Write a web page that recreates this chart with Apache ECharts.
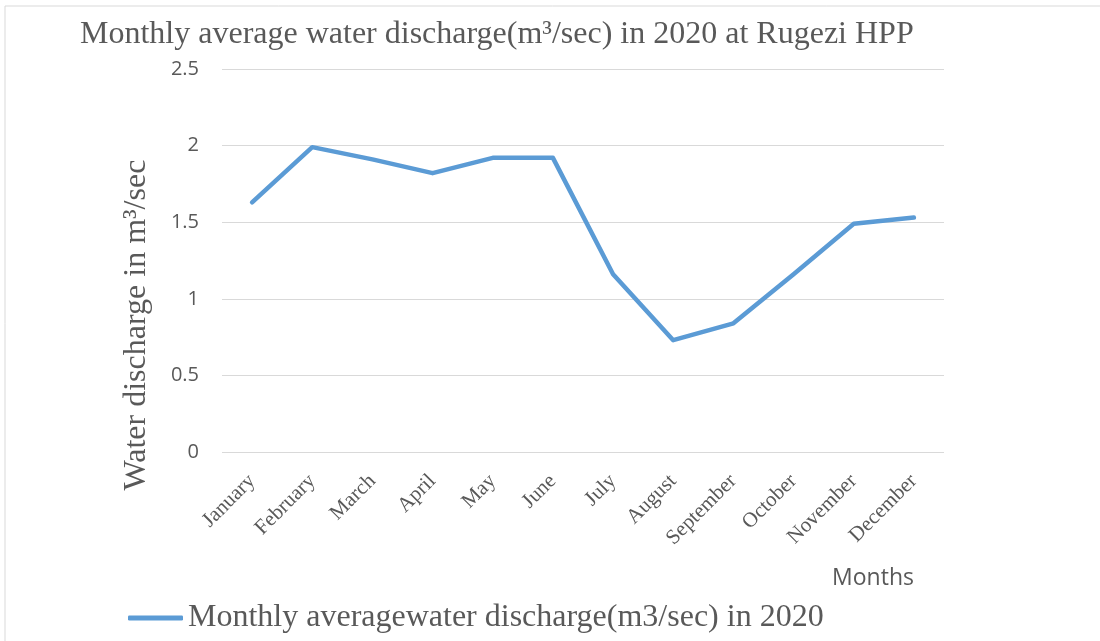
<!DOCTYPE html>
<html>
<head>
<meta charset="utf-8">
<script src="https://cdn.jsdelivr.net/npm/echarts@6/dist/echarts.min.js"></script>
<style>
html, body { margin: 0; padding: 0; background: #fff; }
#main { width: 1100px; height: 641px; }
</style>
</head>
<body>
<div id="main"></div>
<script>
// months on the x axis
var months = ['January', 'February', 'March', 'April', 'May', 'June',
	'July', 'August', 'September', 'October', 'November', 'December'];
// monthly average discharge, m3/sec
var discharge = [1.63, 1.99, 1.91, 1.82, 1.92, 1.92, 1.16, 0.73, 0.84, 1.16, 1.49, 1.53];
var yTicks = [0, 0.5, 1, 1.5, 2, 2.5];

var serif = '"Liberation Serif", "DejaVu Serif", serif';
var sans = '"Open Sans", "Noto Sans", sans-serif';
var textColor = '#595959';

var myChart = echarts.init(document.getElementById('main'));
var option = {
	animation: false,
	title: {
		text: 'Monthly average water discharge(m\u00b3/sec) in 2020 at Rugezi HPP',
		left: 75,
		top: 14,
		textStyle: { fontFamily: serif, fontSize: 32, fontWeight: 'normal', color: textColor }
	},
	legend: {
		left: 123,
		top: 597,
		icon: 'roundRect',
		itemWidth: 55,
		itemHeight: 5,
		textStyle: { fontFamily: serif, fontSize: 32, color: textColor },
		data: ['Monthly averagewater discharge(m3/sec) in 2020']
	},
	grid: { left: 222, right: 156, top: 69, bottom: 189, containLabel: false },
	xAxis: {
		type: 'category',
		data: months,
		boundaryGap: true,
		axisLine: { show: false },
		axisTick: { show: false },
		axisLabel: {
			rotate: 45,
			margin: 26,
			interval: 0,
			fontFamily: serif,
			fontSize: 21,
			color: textColor
		}
	},
	yAxis: {
		type: 'value',
		min: 0,
		max: 2.5,
		interval: 0.5,
		axisLine: { show: false },
		axisTick: { show: false },
		axisLabel: {
			margin: 23,
			fontFamily: sans,
			fontSize: 20,
			color: textColor,
			formatter: function (v) { return yTicks.indexOf(v) >= 0 ? String(v) : ''; }
		},
		splitLine: { lineStyle: { color: '#d9d9d9', width: 1 } }
	},
	graphic: [
		{ type: 'line', shape: { x1: 5, y1: 6, x2: 1100, y2: 6 }, style: { stroke: '#d9d9d9', lineWidth: 1 } },
		{ type: 'line', shape: { x1: 5, y1: 6, x2: 5, y2: 641 }, style: { stroke: '#d9d9d9', lineWidth: 1 } },
		{
			type: 'text', x: 137, y: 325, rotation: Math.PI / 2,
			style: {
				text: 'Water discharge in m\u00b3/sec', fontFamily: serif, fontSize: 32,
				fill: textColor, textAlign: 'center', textVerticalAlign: 'middle'
			}
		},
		{
			type: 'text', x: 873, y: 578,
			style: {
				text: 'Months', fontFamily: sans, fontSize: 23,
				fill: textColor, textAlign: 'center', textVerticalAlign: 'middle'
			}
		}
	],
	series: [{
		name: 'Monthly averagewater discharge(m3/sec) in 2020',
		type: 'line',
		data: discharge,
		symbol: 'none',
		lineStyle: { color: '#5b9bd5', width: 4.5, cap: 'round', join: 'round' },
		itemStyle: { color: '#5b9bd5' }
	}]
};
myChart.setOption(option);
</script>
</body>
</html>
